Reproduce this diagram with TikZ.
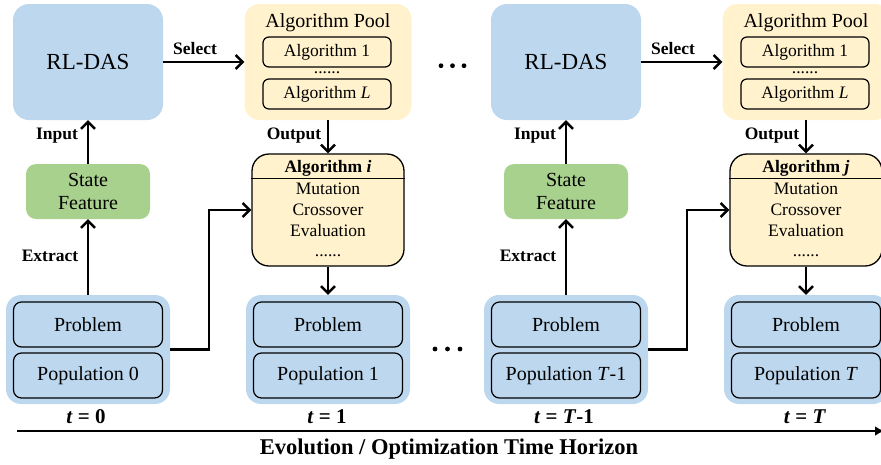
\documentclass[tikz,border=0pt]{standalone}
\usepackage{fontspec}
\setmainfont{Liberation Serif}
\usetikzlibrary{arrows.meta,positioning}

\definecolor{boxblue}{RGB}{189,215,238}
\definecolor{boxyellow}{RGB}{255,242,204}
\definecolor{boxgreen}{RGB}{169,209,142}

\tikzset{
  agent/.style={fill=boxblue, rounded corners=16pt, minimum width=150pt, minimum height=116pt, font=\fontsize{23}{27}\selectfont},
  pool/.style={fill=boxyellow, rounded corners=15pt, minimum width=167pt, minimum height=116pt},
  pooltitle/.style={font=\fontsize{20}{24}\selectfont},
  poolitem/.style={draw, line width=1.2pt, fill=boxyellow, rounded corners=6pt, minimum width=128pt, minimum height=30pt, font=\fontsize{17.5}{21}\selectfont},
  gap/.style={inner sep=0pt, font=\fontsize{17.5}{21}\selectfont},
  algbox/.style={draw, line width=1.3pt, fill=boxyellow, rounded corners=17pt, minimum width=152pt, minimum height=112pt},
  ops/.style={align=center, inner sep=0pt, font=\fontsize{17.5}{20.7}\selectfont},
  feature/.style={fill=boxgreen, rounded corners=10pt, minimum width=124pt, minimum height=55pt, align=center, font=\fontsize{20}{23}\selectfont},
  popouter/.style={fill=boxblue, rounded corners=15pt, minimum width=164pt, minimum height=109pt},
  popitem/.style={draw, line width=1.2pt, fill=boxblue, rounded corners=8pt, minimum width=149pt, minimum height=45pt, font=\fontsize{20}{24}\selectfont},
  flow/.style={line width=2.4pt, -{Straight Barb[length=7pt,width=14pt]}},
  tag/.style={font=\bfseries\fontsize{17.5}{21}\selectfont},
  stamp/.style={font=\bfseries\fontsize{21}{25}\selectfont},
}

\begin{document}
\begin{tikzpicture}[x=1pt,y=-1pt]
  \useasboundingbox (0,0) rectangle (881,464);

  \foreach \dx/\s/\alg/\popa/\popb in {0/a/i/0/1, 478/b/j/{\textit{T}-1}/\textit{T}} {
    \node[agent] (rl\s) at (88+\dx,62) {RL-DAS};

    \node[pool] (pool\s) at (328+\dx,62) {};
    \node[pooltitle] (pooltop\s) at (328+\dx,23) {Algorithm Pool};
    \node[poolitem] (first\s) at (327+\dx,52) {Algorithm 1};
    \node[gap] (more\s) at (327+\dx,73) {......};
    \node[poolitem] (last\s) at (327+\dx,94) {Algorithm \textit{L}};

    \node[feature] (state\s) at (88+\dx,191.5) {State\\Feature};

    \node[algbox] (alg\s) at (328+\dx,210) {};
    \node[tag] (algname\s) at (328+\dx,168) {Algorithm \textit{\alg}};
    \draw[line width=1.2pt] ([yshift=-25pt]alg\s.north west) -- ([yshift=-25pt]alg\s.north east);
    \node[ops, anchor=north] (ops\s) at (328+\dx,183) {Mutation\\Crossover\\Evaluation\\......};

    \node[popouter] (pa\s) at (88+\dx,349.5) {};
    \node[popitem] (proba\s) at (88+\dx,324.5) {Problem};
    \node[popitem] (popa\s) at (88+\dx,375.5) {Population \popa};
    \node[popouter] (pb\s) at (328+\dx,349.5) {};
    \node[popitem] (probb\s) at (328+\dx,324.5) {Problem};
    \node[popitem] (popb\s) at (328+\dx,375.5) {Population \popb};

    \node[stamp] (ta\s) at (86+\dx,417) {\textit{t} = \popa};
    \node[stamp] (tb\s) at (327+\dx,417) {\textit{t} = \popb};

    \draw[flow] (rl\s) -- (pool\s);
    \node[tag] (select\s) at (195+\dx,49) {Select};
    \draw[flow] (pool\s) -- (alg\s);
    \node[tag] (output\s) at (294+\dx,136) {Output};
    \draw[flow] (alg\s) -- (pb\s);
    \draw[flow] (pa\s) -- (state\s);
    \node[tag] (extract\s) at (50+\dx,256) {Extract};
    \draw[flow] (state\s) -- (rl\s);
    \node[tag] (input\s) at (57+\dx,136) {Input};

    \coordinate (bend\s) at (209+\dx,0);
    \draw[flow] (pa\s.east) -| (bend\s |- alg\s.west) -- (alg\s.west);
  }

  \foreach \k in {0,1,2} {
    \fill (441+11.5*\k,65.7) circle (2.4pt);
    \fill (435+12.5*\k,349) circle (2.4pt);
  }

  \coordinate (start) at (17,431);
  \coordinate (end) at (884,431);
  \draw[line width=2.3pt, -{Latex[length=9pt,width=10pt]}] (start) -- (end);
  \node[font=\bfseries\fontsize{22.5}{27}\selectfont] (horizon) at (449,449) {Evolution / Optimization Time Horizon};
\end{tikzpicture}
\end{document}
